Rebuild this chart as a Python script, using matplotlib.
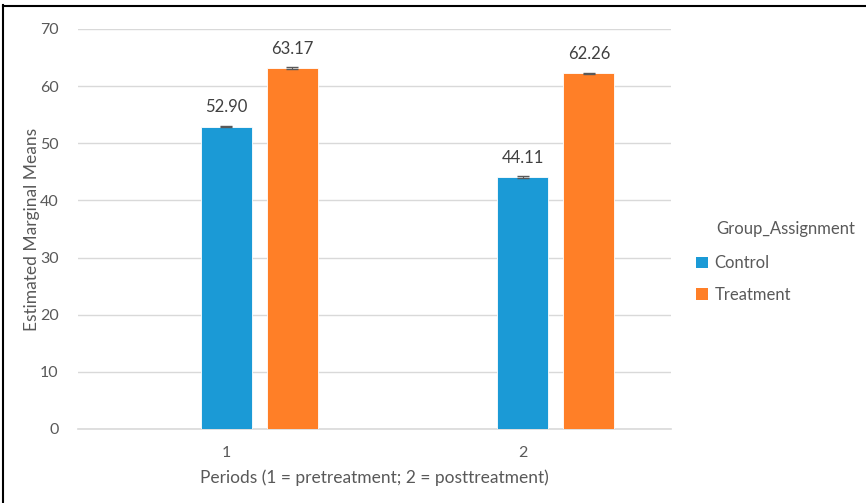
import matplotlib
matplotlib.use("Agg")
import matplotlib.pyplot as plt
from matplotlib.patches import Patch
from matplotlib.lines import Line2D
import numpy as np

categories = ["1", "2"]
control = [52.90, 44.11]
treatment = [63.17, 62.26]
control_err = [0.12, 0.12]
treatment_err = [0.12, 0.12]
series_names = ["Control", "Treatment"]
legend_title = "Group_Assignment"

plt.rcParams['font.family'] = ['Lato', 'DejaVu Sans']
TXT = '#595959'
BLUE = '#1B9AD6'
ORANGE = '#FF7F27'

fig = plt.figure(figsize=(8.66, 5.03), dpi=100)
ax = fig.add_axes([78/866, 1-429/503, (671-78)/866, (429-29)/503])

x = np.arange(1, len(categories)+1)
w = 0.172
off = 0.223
ax.bar(x, control, width=w, color=BLUE, edgecolor='white', linewidth=0.6, zorder=3)
ax.bar(x + off, treatment, width=w, color=ORANGE, edgecolor='white', linewidth=0.6, zorder=3)
ax.errorbar(x, control, yerr=control_err, fmt='none', ecolor='#595959', elinewidth=0.8, capsize=4, capthick=1, zorder=4)
ax.errorbar(x + off, treatment, yerr=treatment_err, fmt='none', ecolor='#595959', elinewidth=0.8, capsize=4, capthick=1, zorder=4)

for xi, v in zip(x, control):
    ax.text(xi, v + 2.0, f"{v:.2f}", ha='center', va='bottom', fontsize=12, color='#404040')
for xi, v in zip(x + off, treatment):
    ax.text(xi, v + 2.0, f"{v:.2f}", ha='center', va='bottom', fontsize=12, color='#404040')

ax.set_xlim(0.5, 2.5)
ax.set_ylim(0, 70)
ax.set_yticks(np.arange(0, 71, 10))
ax.set_xticks(x)
ax.set_xticklabels(categories)
ax.grid(axis='y', color='#D9D9D9', linewidth=1, zorder=0)
for s in ['top', 'right', 'left']:
    ax.spines[s].set_visible(False)
ax.spines['bottom'].set_color('#D9D9D9')
ax.spines['bottom'].set_linewidth(1.2)
ax.tick_params(axis='both', length=0, labelsize=11.5, labelcolor=TXT)
ax.tick_params(axis='y', pad=14)
ax.tick_params(axis='x', pad=12)
ax.set_xlabel("Periods (1 = pretreatment; 2 = posttreatment)", fontsize=12.5, color=TXT, labelpad=7)
ax.set_ylabel("Estimated Marginal Means", fontsize=12.5, color=TXT, labelpad=0)

handles = [Patch(facecolor=BLUE, edgecolor='none'), Patch(facecolor=ORANGE, edgecolor='none')]
leg = fig.legend(handles, series_names, loc='upper left',
                 bbox_to_anchor=(693/866, 1-252/503), frameon=False, fontsize=12,
                 handlelength=0.7, handleheight=0.7, handletextpad=0.4,
                 labelspacing=0.95, borderaxespad=0, borderpad=0.2)
for t in leg.get_texts():
    t.set_color(TXT)
fig.text(716/866, 1-229/503, legend_title, ha='left', va='center', fontsize=12, color=TXT)

# figure border (left and top visible)
fig.add_artist(Line2D([3/866, 3/866], [0, 1-5/503], transform=fig.transFigure, color='black', linewidth=1.5))
fig.add_artist(Line2D([3/866, 1], [1-6/503, 1-6/503], transform=fig.transFigure, color='black', linewidth=1.5))

fig.savefig("out.png", dpi=100)
